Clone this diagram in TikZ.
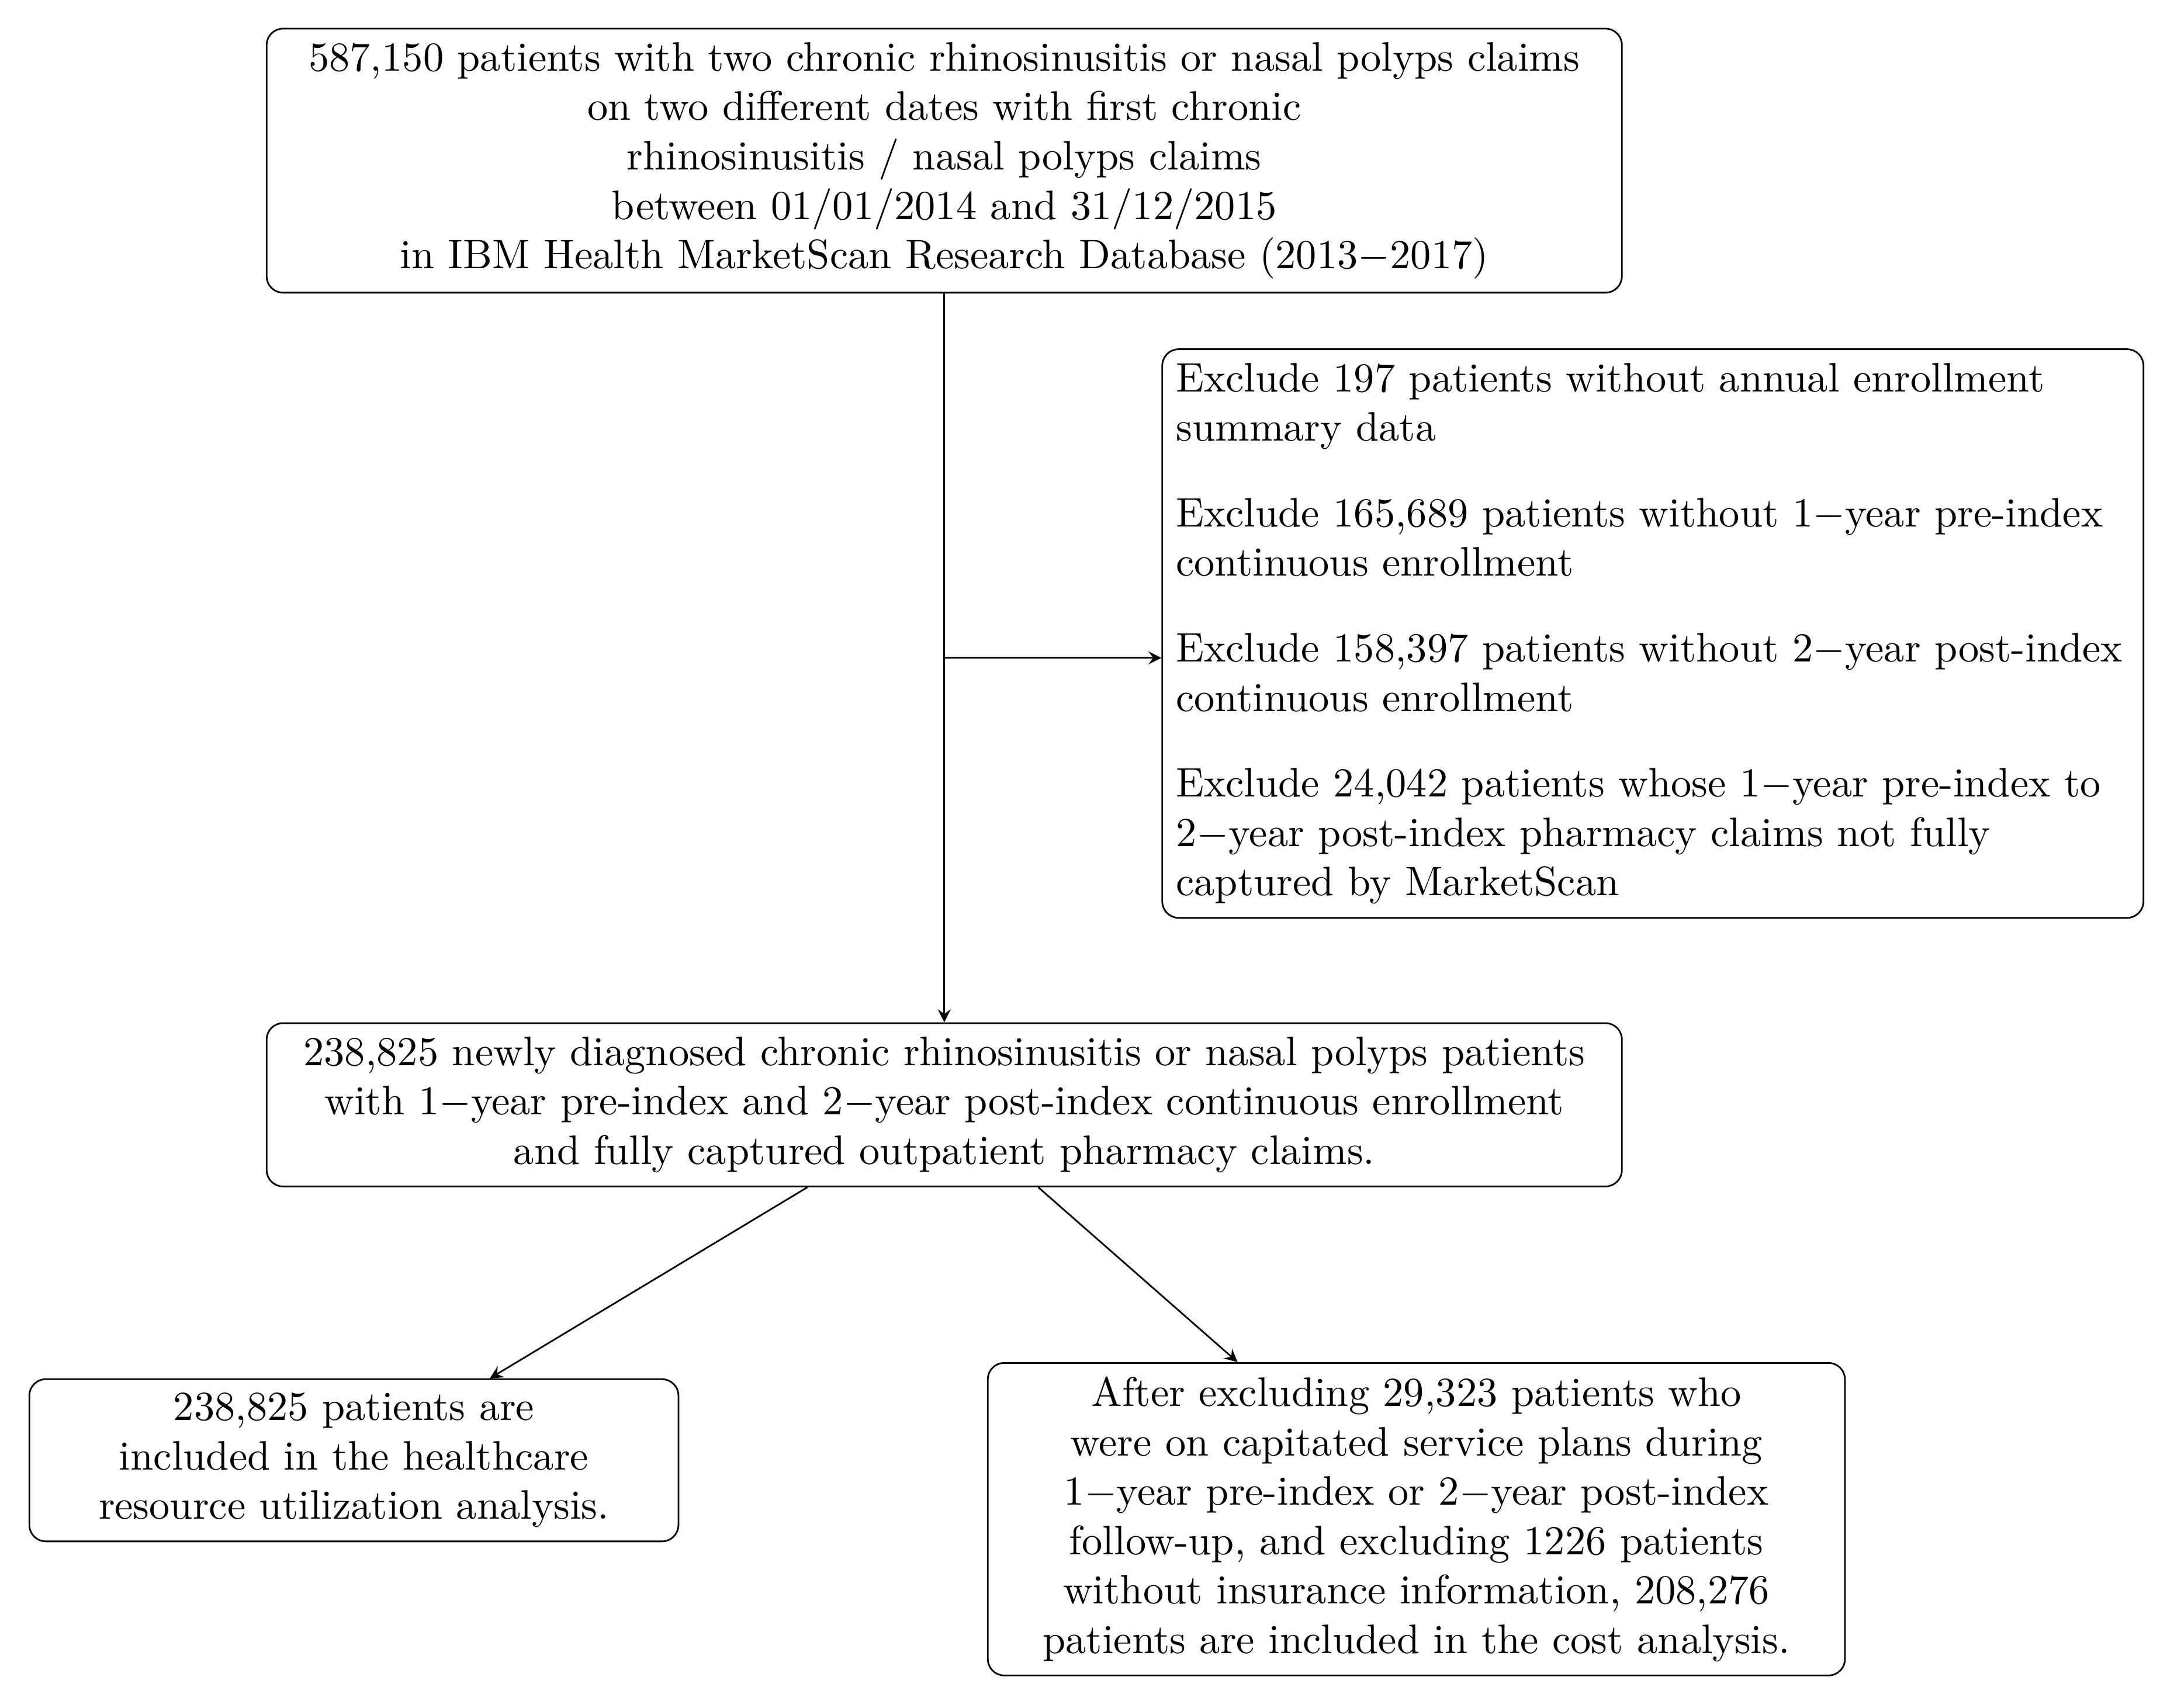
\documentclass[tikz,border=0pt]{standalone}
\begin{document}
\begin{tikzpicture}[%
                mybox/.style={draw, rounded corners, align=center},
                myarrow/.style={-stealth}
        ]
            \useasboundingbox (0,0) rectangle (529.4pt,-414.5pt);
            \node [mybox, text width=322.3pt] (start) at (229.2pt,-39pt)
                {587,150 patients with two chronic rhinosinusitis or nasal polyps claims\\
                 on two different dates with first chronic\\
                 rhinosinusitis / nasal polyps claims\\
                 between 01/01/2014 and 31/12/2015\\
                 in IBM Health MarketScan Research Database (2013$-$2017)};
            \node [mybox, align=left, text width=231.5pt] (excl) at (401.2pt,-153.8pt)
                {Exclude 197 patients without annual enrollment\\
                 summary data\\[8.8pt]
                 Exclude 165,689 patients without 1$-$year pre-index\\
                 continuous enrollment\\[8.8pt]
                 Exclude 158,397 patients without 2$-$year post-index\\
                 continuous enrollment\\[8.8pt]
                 Exclude 24,042 patients whose 1$-$year pre-index to\\
                 2$-$year post-index pharmacy claims not fully\\
                 captured by MarketScan};
            \node [mybox, text width=322.3pt] (cohort) at (229.2pt,-268.2pt)
                {238,825 newly diagnosed chronic rhinosinusitis or nasal polyps patients\\
                 with 1$-$year pre-index and 2$-$year post-index continuous enrollment\\
                 and fully captured outpatient pharmacy claims.};
            \node [mybox, text width=150.9pt] (hcru) at (85.9pt,-354.5pt)
                {238,825 patients are\\
                 included in the healthcare\\
                 resource utilization analysis.};
            \node [mybox, text width=201.4pt] (cost) at (343.8pt,-368.8pt)
                {After excluding 29,323 patients who\\
                 were on capitated service plans during\\
                 1$-$year pre-index or 2$-$year post-index\\
                 follow-up, and excluding 1226 patients\\
                 without insurance information, 208,276\\
                 patients are included in the cost analysis.};
            \draw [myarrow] (start) -- (cohort);
            \path (start.south) -- (cohort.north) coordinate [midway] (split);
            \draw [myarrow] (split) -- (split -| excl.west);
            \foreach \t in {hcru,cost} {
                \draw [myarrow] (cohort) -- (\t);
            }
        \end{tikzpicture}
\end{document}
